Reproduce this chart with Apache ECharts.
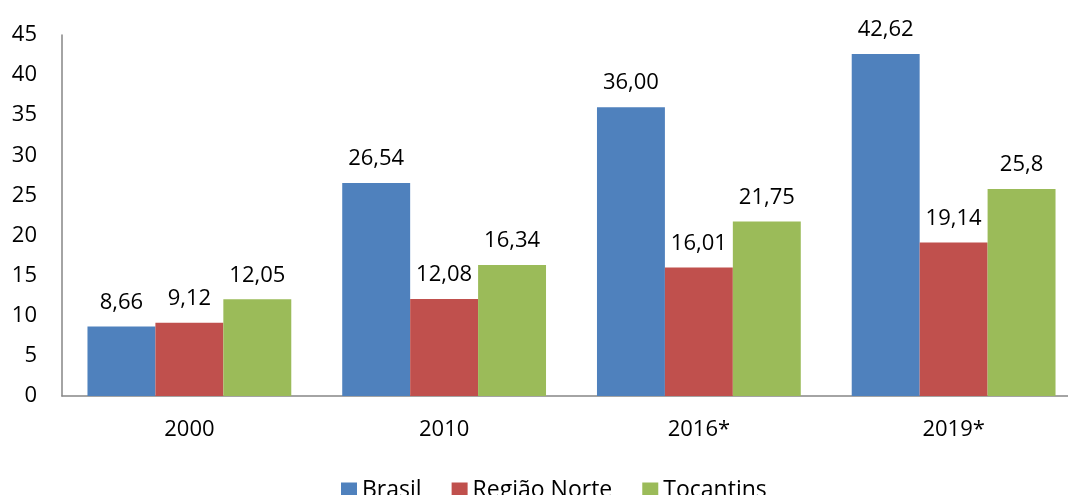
<!DOCTYPE html>
<html>
<head>
<meta charset="utf-8">
<script src="https://cdn.jsdelivr.net/npm/echarts@6/dist/echarts.min.js"></script>
<style>
  html, body { margin: 0; padding: 0; background: #fff; }
  #chart { width: 1068px; height: 495px; }
</style>
</head>
<body>
<div id="chart"></div>
<script>
  var categories = ['2000', '2010', '2016*', '2019*']
  var seriesNames = ['Brasil', 'Região Norte', 'Tocantins']
  var brasil = [8.66, 26.54, 36.00, 42.62]
  var regiaoNorte = [9.12, 12.08, 16.01, 19.14]
  var tocantins = [12.05, 16.34, 21.75, 25.8]
  // rotulos como no original (virgula decimal)
  var brasilLabels = ['8,66', '26,54', '36,00', '42,62']
  var norteLabels = ['9,12', '12,08', '16,01', '19,14']
  var tocantinsLabels = ['12,05', '16,34', '21,75', '25,8']
  var colors = ['#4F81BD', '#C0504D', '#9BBB59']
  var font = 'Open Sans'

  function makeSeries(name, data, labels, color) {
    return {
      name: name,
      type: 'bar',
      data: data,
      barGap: 0,
      barCategoryGap: '20%',
      itemStyle: { color: color },
      label: {
        show: true,
        position: 'top',
        distance: 13,
        color: '#000',
        fontFamily: font,
        fontSize: 22,
        formatter: function (p) { return labels[p.dataIndex] }
      }
    }
  }

  var chart = echarts.init(document.getElementById('chart'))
  chart.setOption({
    animation: false,
    legend: {
      data: seriesNames,
      top: 474,
      left: 336,
      itemWidth: 16,
      itemHeight: 16,
      itemGap: 30,
      icon: 'rect',
      textStyle: { color: '#000', fontFamily: font, fontSize: 23 }
    },
    grid: {
      left: 62,
      top: 35,
      width: 1019,
      height: 361,
      outerBoundsMode: 'none',
      containLabel: false
    },
    xAxis: {
      type: 'category',
      data: categories,
      axisLine: { lineStyle: { color: '#868686', width: 1.5 } },
      axisTick: { show: false },
      axisLabel: { color: '#000', fontFamily: font, fontSize: 22, margin: 23 }
    },
    yAxis: {
      type: 'value',
      min: 0,
      max: 45,
      interval: 5,
      axisLine: { show: true, lineStyle: { color: '#868686', width: 1.5 } },
      axisTick: { show: false },
      splitLine: { show: false },
      axisLabel: { color: '#000', fontFamily: font, fontSize: 22, margin: 25 }
    },
    series: [
      makeSeries(seriesNames[0], brasil, brasilLabels, colors[0]),
      makeSeries(seriesNames[1], regiaoNorte, norteLabels, colors[1]),
      makeSeries(seriesNames[2], tocantins, tocantinsLabels, colors[2])
    ]
  })
</script>
</body>
</html>
